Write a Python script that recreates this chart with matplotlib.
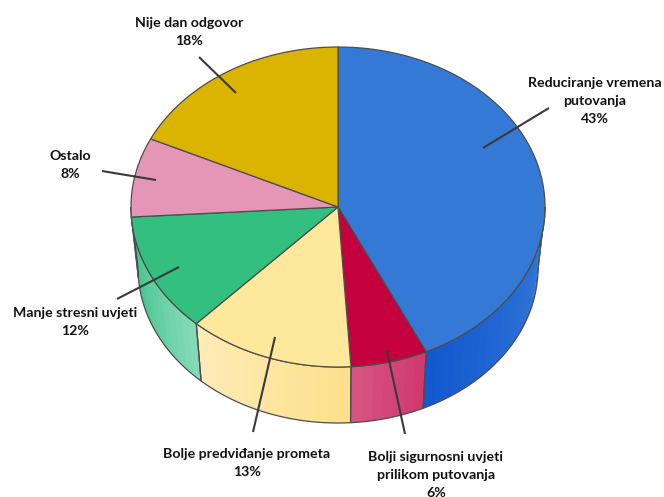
import numpy as np
import matplotlib
matplotlib.use("Agg")
import matplotlib.pyplot as plt
from matplotlib.patches import Polygon
from matplotlib.colors import to_rgb

# Survey answers (share of respondents, %), drawn clockwise from 12 o'clock
categories = [
    "Reduciranje vremena\nputovanja",
    "Bolji sigurnosni uvjeti\nprilikom putovanja",
    "Bolje predviđanje prometa",
    "Manje stresni uvjeti",
    "Ostalo",
    "Nije dan odgovor",
]
shares = [43, 6, 13, 12, 8, 18]

top_colors = ["#3579d6", "#c4003e", "#fee89c", "#33bf80", "#e596b6", "#dab401"]
# side wall shading: (colour at left end, colour at right end)
side_colors = [
    ("#1158cf", "#3a7bd8"),
    ("#d65683", "#d0386c"),
    ("#feebb8", "#fde08a"),
    ("#35bf82", "#88dbb8"),
    ("#e38fb0", "#e596b6"),
    ("#c9a600", "#dab401"),
]

# label text position and the point on the pie its leader line reaches
label_pos = [(595, 101), (436, 475), (247, 463), (75, 322), (70, 165), (189, 32)]
leader_out = [(549, 108), (405, 434), (253, 432), (117, 299), (102, 171), (199, 57)]
leader_in = [(483, 148), (387, 351), (275, 337), (179, 267), (156, 180), (236, 93)]

W, H = 664, 497
fig = plt.figure(figsize=(W / 100, H / 100), dpi=100)
ax = fig.add_axes([0, 0, 1, 1])
ax.set_xlim(0, W)
ax.set_ylim(H, 0)
ax.axis("off")

# top ellipse and (slightly smaller, lower) bottom ellipse of the disc
cx, cy, rx, ry = 338, 207, 207, 160
bx, by, brx, bry = 338, 268, 200, 155
edge = "#4d4d4d"


def top_pt(t):
    r = np.radians(t)
    return cx + rx * np.cos(r), cy - ry * np.sin(r)


def bot_pt(t):
    r = np.radians(t)
    return bx + brx * np.cos(r), by - bry * np.sin(r)


def mix(c1, c2, f):
    a, b = np.array(to_rgb(c1)), np.array(to_rgb(c2))
    return tuple(a + (b - a) * f)


total = float(sum(shares))
bounds = []
acc = 0.0
for s in shares:
    start = 90 - 360 * acc / total
    acc += s
    end = 90 - 360 * acc / total
    bounds.append((start, end))

# side walls (front half only: angles between -180 and 0)
for (start, end), (cl, cr) in zip(bounds, side_colors):
    a = max(end, -180.0)
    b = min(start, 0.0)
    if b <= a:
        continue
    n = max(2, int((b - a) / 3))
    ts = np.linspace(a, b, n + 1)
    step = ts[1] - ts[0]
    for i in range(n):
        t0 = ts[i]
        t1 = min(ts[i + 1] + 0.35 * step, b)
        tt = np.linspace(t0, t1, 6)
        pts = [top_pt(t) for t in tt] + [bot_pt(t) for t in tt[::-1]]
        f = (i + 0.5) / n
        ax.add_patch(Polygon(pts, closed=True, facecolor=mix(cl, cr, f),
                             edgecolor="none", zorder=1))
    tt = np.linspace(a, b, 80)
    pts = [top_pt(t) for t in tt] + [bot_pt(t) for t in tt[::-1]]
    ax.add_patch(Polygon(pts, closed=True, facecolor="none",
                         edgecolor=edge, lw=0.9, zorder=2))

# top face wedges
for (start, end), col in zip(bounds, top_colors):
    tt = np.linspace(start, end, 120)
    pts = [(cx, cy)] + [top_pt(t) for t in tt]
    ax.add_patch(Polygon(pts, closed=True, facecolor=col,
                         edgecolor=edge, lw=0.9, zorder=3))

# labels with leader lines
for cat, s, tp, lo, li in zip(categories, shares, label_pos, leader_out, leader_in):
    ax.plot([lo[0], li[0]], [lo[1], li[1]], color="#3a3a3a", lw=1.5,
            solid_capstyle="butt", zorder=4)
    ax.text(tp[0], tp[1], f"{cat}\n{s}%", ha="center", va="center",
            fontsize=10.2, fontweight="bold", family=["Lato", "DejaVu Sans"],
            color="#111111", linespacing=1.6, zorder=5)

fig.savefig("out.png", dpi=100, facecolor="white")
